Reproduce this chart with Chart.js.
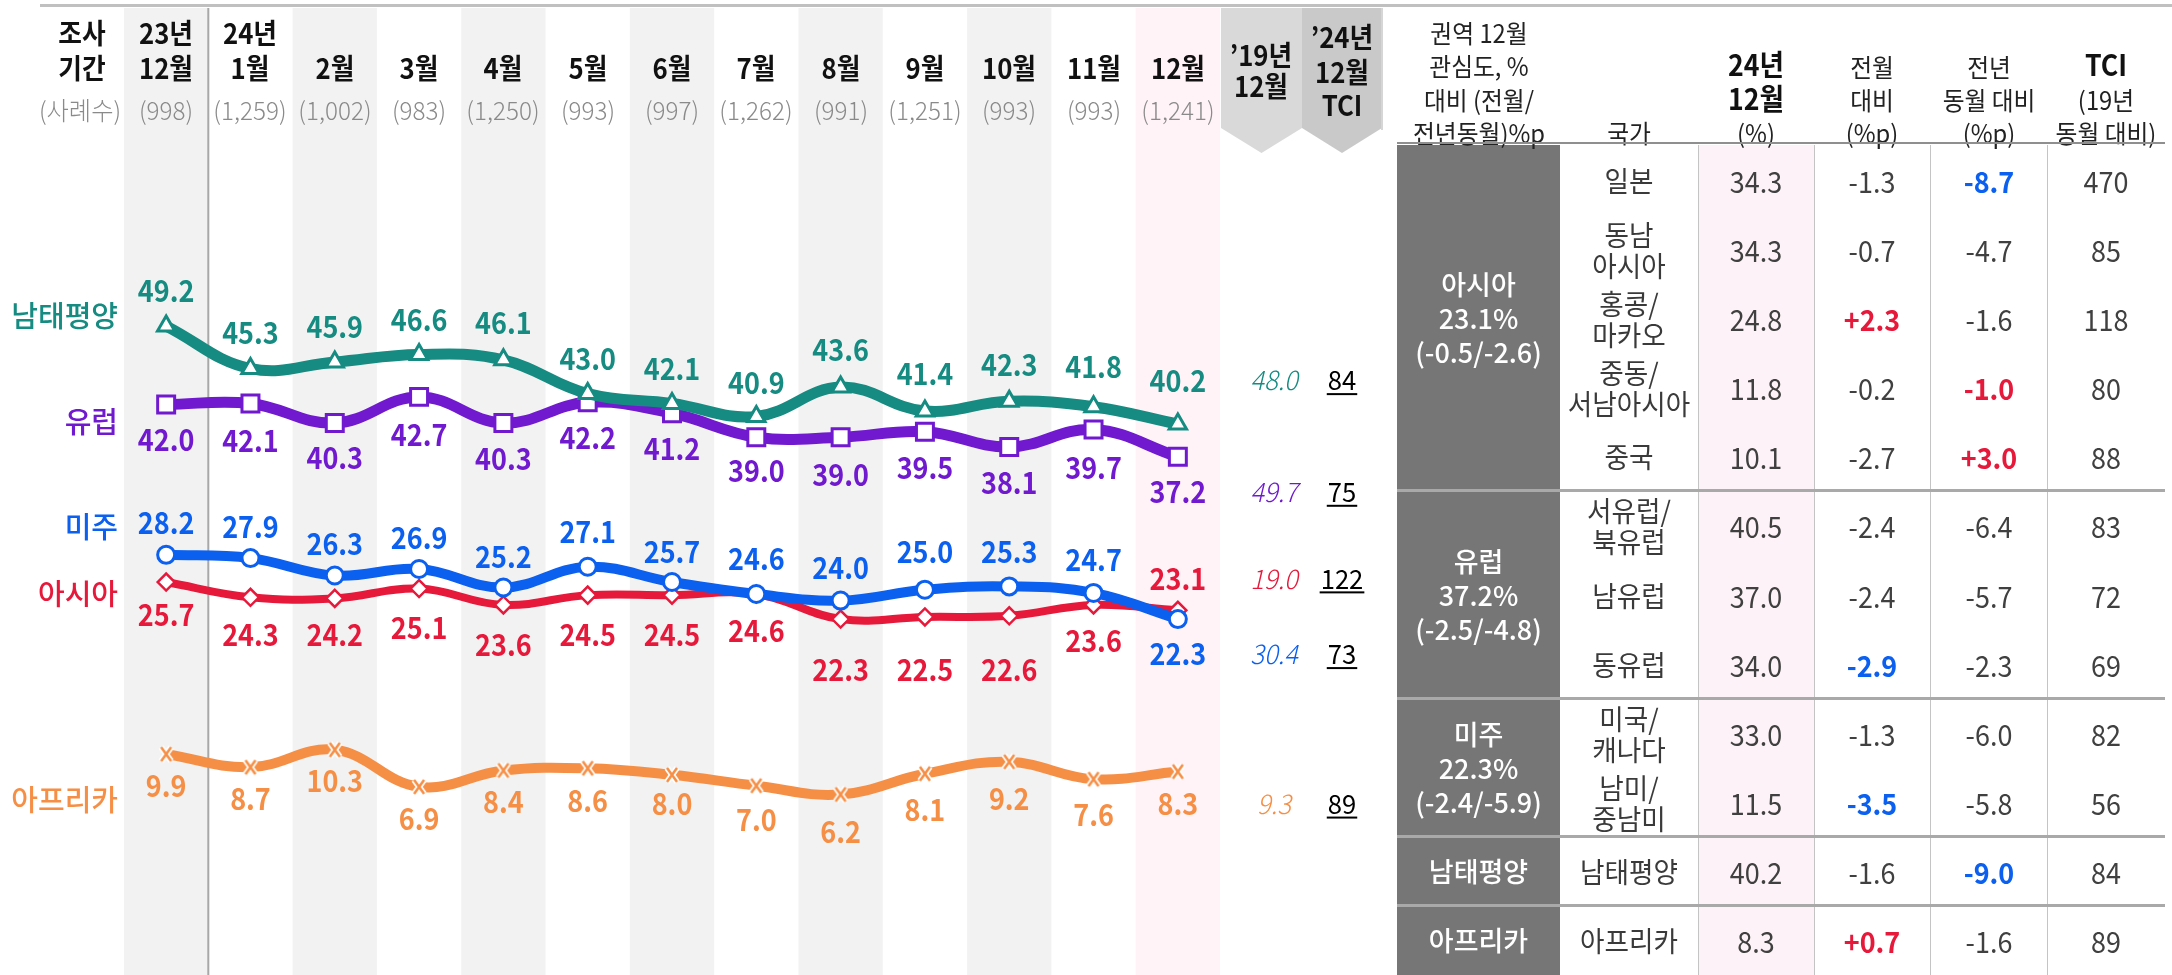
<!DOCTYPE html>
<html><head><meta charset="utf-8">
<script src="https://cdn.jsdelivr.net/npm/chart.js@4.4.1/dist/chart.umd.min.js"></script>
<style>
html,body{margin:0;padding:0;background:#fff;}
#wrap{position:relative;width:2172px;height:975px;overflow:hidden;font-family:"Noto Sans CJK KR","Noto Sans",sans-serif;color:#111;}
#cv{position:absolute;left:0;top:0;z-index:0;}
.t{position:absolute;white-space:nowrap;text-align:center;z-index:2;}
.b{position:absolute;z-index:1;}
</style></head><body><div id="wrap"><canvas id="cv" width="1400" height="975"></canvas></div>
<script>
// ---------- DATA ----------
const periods = ['23년\n12월','24년\n1월','2월','3월','4월','5월','6월','7월','8월','9월','10월','11월','12월'];
const sampleSizes = [998,1259,1002,983,1250,993,997,1262,991,1251,993,993,1241];

const seriesNames = ['남태평양','유럽','미주','아시아','아프리카'];
const southPacific = [49.2,45.3,45.9,46.6,46.1,43.0,42.1,40.9,43.6,41.4,42.3,41.8,40.2];
const europe       = [42.0,42.1,40.3,42.7,40.3,42.2,41.2,39.0,39.0,39.5,38.1,39.7,37.2];
const americas     = [28.2,27.9,26.3,26.9,25.2,27.1,25.7,24.6,24.0,25.0,25.3,24.7,22.3];
const asia         = [25.7,24.3,24.2,25.1,23.6,24.5,24.5,24.6,22.3,22.5,22.6,23.6,23.1];
const africa       = [9.9,8.7,10.3,6.9,8.4,8.6,8.0,7.0,6.2,8.1,9.2,7.6,8.3];
const dec2019      = [48.0,49.7,30.4,19.0,9.3];
const tci2024      = [84,75,73,122,89];

const tableRegions = ['아시아','유럽','미주','남태평양','아프리카'];
const regionRowCounts = [5,3,2,1,1];
const countries = ['일본','동남\n아시아','홍콩/\n마카오','중동/\n서남아시아','중국','서유럽/\n북유럽','남유럽','동유럽','미국/\n캐나다','남미/\n중남미','남태평양','아프리카'];
const share2412 = [34.3,34.3,24.8,11.8,10.1,40.5,37.0,34.0,33.0,11.5,40.2,8.3];
const momChange = [-1.3,-0.7,2.3,-0.2,-2.7,-2.4,-2.4,-2.9,-1.3,-3.5,-1.6,0.7];
const yoyChange = [-8.7,-4.7,-1.6,-1.0,3.0,-6.4,-5.7,-2.3,-6.0,-5.8,-9.0,-1.6];
const tciTable  = [470,85,118,80,88,83,72,69,82,56,84,89];

// ---------- STYLE ----------
const seriesColors = ['#158b81','#7019cf','#0b60ef','#e6193b','#f68f46'];
const momMark = ['','','r','','','','','b','','b','','r'];
const yoyMark = ['b','','','r','r','','','','','','b',''];
const labelDy = [
  [-35,-36,-35,-35,-37,-35,-35,-34,-37,-37,-37,-40,-44],
  [35,37,35,38,36,35,35,33,37,36,36,38,35],
  [-32,-31,-32,-31,-31,-35,-30,-35,-33,-38,-35,-33,35],
  [33,37,36,39,40,39,39,37,51,53,54,36,-32],
  [31,31,31,32,31,32,29,34,37,36,37,35,32]
];
const nameDy = [-10,17,-28,12,46];
const FONT = '"Noto Sans CJK KR","Noto Sans",sans-serif';

const wrap = document.getElementById('wrap');
function addText(txt, cx, cy, style, w) {
  w = w || 300;
  const d = document.createElement('div');
  d.className = 't';
  d.textContent = txt;
  Object.assign(d.style, {left:(cx-w/2)+'px', width:w+'px', top:(cy-20)+'px', height:'40px', lineHeight:'40px'}, style||{});
  wrap.appendChild(d);
  return d;
}
function addBox(l, t, w, h, bg, extra) {
  const d = document.createElement('div');
  d.className = 'b';
  Object.assign(d.style, {left:l+'px', top:t+'px', width:w+'px', height:h+'px', background:bg}, extra||{});
  wrap.appendChild(d);
  return d;
}

function xMarker(color) {
  const c = document.createElement('canvas'); c.width = 22; c.height = 22;
  const g = c.getContext('2d');
  g.lineCap = 'butt';
  const path = () => { g.beginPath(); g.moveTo(6,4); g.lineTo(16,18); g.moveTo(16,4); g.lineTo(6,18); g.stroke(); };
  g.strokeStyle = '#fff'; g.lineWidth = 6; path();
  g.strokeStyle = color; g.lineWidth = 2.5; path();
  return c;
}

function condensedText(ctx, s, x, y, sx) {
  ctx.save();
  ctx.translate(x, y);
  ctx.scale(sx, 1);
  ctx.fillText(s, 0, 0);
  ctx.restore();
}

function build() {
  const seriesData = [southPacific, europe, americas, asia, africa];
  const pStyles = ['triangle','rect','circle','rectRot', xMarker(seriesColors[4])];
  const pRadius = [10,12,8.5,8.5,9];
  const pBorder = [3,3,3,2.5,0];
  const lineW = [11,11,10,8,10];

  const bgPlugin = {
    id:'bg',
    beforeDraw(chart) {
      const {ctx, scales:{x}} = chart;
      const w = x.width / periods.length;
      ctx.save();
      periods.forEach((p,i) => {
        const cx = x.getPixelForValue(i);
        let col = null;
        if (i === periods.length-1) col = '#fff3f8';
        else if (i % 2 === 0) col = '#f2f2f2';
        if (col) { ctx.fillStyle = col; ctx.fillRect(cx - w/2, 8, w, chart.height - 8); }
      });
      const xd = x.getPixelForValue(0) + w/2;
      ctx.fillStyle = '#a8a8a8';
      ctx.fillRect(xd - 1, 8, 2, chart.height - 8);
      ctx.restore();
    }
  };
  const labelPlugin = {
    id:'labels',
    afterDatasetsDraw(chart) {
      const {ctx, chartArea} = chart;
      ctx.save();
      ctx.textAlign = 'center';
      ctx.textBaseline = 'middle';
      const c19 = chartArea.right + 54, cTci = chartArea.right + 122;
      chart.data.datasets.forEach((ds, di) => {
        const meta = chart.getDatasetMeta(di);
        ctx.fillStyle = seriesColors[di];
        ctx.font = 'bold 30px ' + FONT;
        meta.data.forEach((pt, i) => {
          condensedText(ctx, ds.data[i].toFixed(1), pt.x, pt.y + labelDy[di][i], 0.9);
        });
        ctx.font = '500 29px ' + FONT;
        ctx.textAlign = 'right';
        ctx.fillText(seriesNames[di], 118, meta.data[0].y + nameDy[di]);
        ctx.textAlign = 'center';
        const last = meta.data.length - 1;
        const yy = meta.data[last].y + labelDy[di][last];
        ctx.font = 'italic 300 27px ' + FONT;
        condensedText(ctx, dec2019[di].toFixed(1), c19, yy, 0.95);
        ctx.fillStyle = '#000';
        ctx.font = '27px ' + FONT;
        const s = String(tci2024[di]);
        condensedText(ctx, s, cTci, yy, 0.95);
        const tw = ctx.measureText(s).width * 0.95;
        ctx.fillRect(cTci - tw/2 - 1, yy + 13, tw + 2, 2);
      });
      ctx.restore();
    }
  };

  const chart = new Chart(document.getElementById('cv'), {
    type:'line',
    data:{
      labels: periods,
      datasets: seriesData.map((d, i) => ({
        label: seriesNames[i], data: d,
        borderColor: seriesColors[i], backgroundColor:'#fff',
        borderWidth: lineW[i], tension: 0.4,
        pointStyle: pStyles[i], pointRadius: pRadius[i], pointBorderWidth: pBorder[i],
        pointBackgroundColor:'#fff', pointBorderColor: seriesColors[i],
        clip: false, fill: false
      }))
    },
    options:{
      responsive:false, animation:false, devicePixelRatio:1,
      layout:{padding:{left:124, right:180, top:154, bottom:4}},
      scales:{
        x:{type:'category', offset:true, display:false},
        y:{min:-9, max:65, display:false}
      },
      plugins:{legend:{display:false}, tooltip:{enabled:false}}
    },
    plugins:[bgPlugin, labelPlugin]
  });

  // ---------- header (left) ----------
  addBox(40, 4, 2132, 3, '#c0c0c0');
  const hb = {fontWeight:'700', fontSize:'28px', transform:'scaleX(.92)'};
  const cnt = {fontSize:'25px', fontWeight:'300', color:'#8a8a8a', transform:'scaleX(.97)'};
  const x = chart.scales.x;
  addText('조사', 82, 32, hb);
  addText('기간', 82, 67, hb);
  addText('(사례수)', 80, 109, cnt);
  periods.forEach((p, i) => {
    const cx = x.getPixelForValue(i);
    const lines = p.split('\n');
    if (lines.length > 1) addText(lines[0], cx, 32, hb);
    addText(lines[lines.length-1], cx, 67, hb);
    addText('(' + sampleSizes[i].toLocaleString('en-US') + ')', cx, 109, cnt);
  });
  const right = chart.chartArea.right;
  const chev = 'polygon(0 0,100% 0,100% 120px,50% 145px,0 120px)';
  addBox(right+1, 8, 81, 145, '#d9d9d9', {clipPath:chev});
  addBox(right+82, 8, 80, 145, '#c9c9c9', {clipPath:chev});
  addText('’19년', right+41, 54, hb);
  addText('12월', right+41, 85, hb);
  addText('’24년', right+122, 36, hb);
  addText('12월', right+122, 71, hb);
  addText('TCI', right+122, 104, hb);
  addBox(1381, 8, 2, 122, '#d6d6d6');

  // ---------- table ----------
  const cols = [1397,1560,1698,1814,1930,2047,2165];
  const ctr = i => (cols[i] + cols[i+1]) / 2;
  const hdr = {fontSize:'25px', color:'#222', transform:'scaleX(.95)'};
  const hdrB = {fontSize:'29px', fontWeight:'700', color:'#111', transform:'scaleX(.92)'};
  ['권역 12월','관심도, %','대비 (전월/','전년동월)%p'].forEach((t, k) => addText(t, ctr(0), 32 + k*33.3, hdr));
  addText('국가', ctr(1), 132, hdr);
  addText('24년', ctr(2), 63, hdrB); addText('12월', ctr(2), 97, hdrB); addText('(%)', ctr(2), 132, hdr);
  addText('전월', ctr(3), 66, hdr); addText('대비', ctr(3), 99, hdr); addText('(%p)', ctr(3), 132, hdr);
  addText('전년', ctr(4), 66, hdr); addText('동월 대비', ctr(4), 99, hdr); addText('(%p)', ctr(4), 132, hdr);
  addText('TCI', ctr(5), 63, hdrB); addText('(19년', ctr(5), 99, hdr); addText('동월 대비)', ctr(5), 132, hdr);

  const bodyTop = 145, bodyBot = 975;
  const rowH = (bodyBot - bodyTop) / countries.length;
  addBox(cols[2], bodyTop, cols[3]-cols[2], bodyBot-bodyTop, '#fdf2f7');
  [2,3,4,5].forEach(k => addBox(cols[k], bodyTop, 1, bodyBot-bodyTop, '#c4c4c4'));

  const regionSeries = {'아시아':asia, '유럽':europe, '미주':americas, '남태평양':southPacific, '아프리카':africa};
  let r = 0;
  tableRegions.forEach((reg, g) => {
    const n = regionRowCounts[g];
    const y0 = bodyTop + r*rowH, h = n*rowH;
    addBox(cols[0], y0, cols[1]-cols[0], h, '#767676');
    const wt = {color:'#fff', fontSize:'27px', fontWeight:'500'};
    const cy = y0 + h/2;
    if (n > 1) {
      const d = regionSeries[reg], L = d.length;
      const sh = d[L-1], mm = (d[L-1]-d[L-2]).toFixed(1), yy = (d[L-1]-d[0]).toFixed(1);
      addText(reg, ctr(0), cy - 34, wt);
      addText(sh.toFixed(1) + '%', ctr(0), cy, wt);
      addText('(' + mm + '/' + yy + ')', ctr(0), cy + 34, wt);
    } else {
      addText(reg, ctr(0), cy, wt);
    }
    if (g > 0) addBox(cols[0], y0 - 1.5, cols[6]-cols[0], 3, '#a9a9a9', {zIndex:3});
    r += n;
  });
  addBox(cols[0], 142, cols[6]-cols[0], 2, '#8f8f8f', {zIndex:3});

  const fmtSigned = v => (v > 0 ? '+' : '') + v.toFixed(1);
  const markStyle = m => m === 'r' ? {color:'#e6193b', fontWeight:'700'} : m === 'b' ? {color:'#0b60ef', fontWeight:'700'} : {};
  countries.forEach((c, i) => {
    const cy = bodyTop + (i + 0.5) * rowH;
    const lines = c.split('\n');
    const base = {fontSize:'28px', color:'#3a3a3a', transform:'scaleX(.95)'};
    if (lines.length === 1) addText(lines[0], ctr(1), cy, base);
    else { addText(lines[0], ctr(1), cy - 15, base); addText(lines[1], ctr(1), cy + 16, base); }
    const val = {fontSize:'29px', color:'#404040', transform:'scaleX(.93)'};
    addText(share2412[i].toFixed(1), ctr(2), cy, val);
    addText(fmtSigned(momChange[i]), ctr(3), cy, Object.assign({}, val, markStyle(momMark[i])));
    addText(fmtSigned(yoyChange[i]), ctr(4), cy, Object.assign({}, val, markStyle(yoyMark[i])));
    addText(String(tciTable[i]), ctr(5), cy, val);
  });
}

Promise.all([
  document.fonts.load('bold 30px "Noto Sans CJK KR"'),
  document.fonts.load('500 29px "Noto Sans CJK KR"'),
  document.fonts.load('300 27px "Noto Sans CJK KR"'),
  document.fonts.load('27px "Noto Sans CJK KR"')
]).catch(()=>{}).then(build);
</script></body></html>
